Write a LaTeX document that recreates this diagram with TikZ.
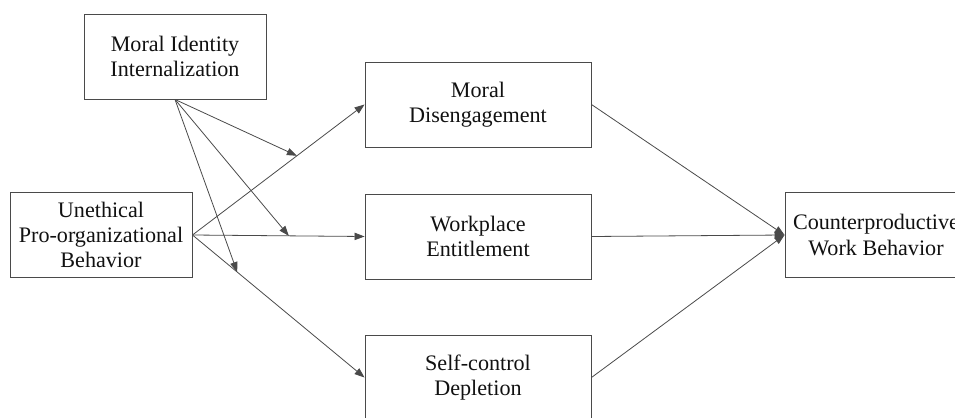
\documentclass[tikz,border=0pt]{standalone}
\usepackage{fontspec}
\setmainfont{Liberation Serif}
\usepackage{xcolor}
\usetikzlibrary{arrows.meta}
\definecolor{ink}{HTML}{4A4A4A}
\definecolor{txt}{HTML}{111111}
\tikzset{
  box/.style={draw=ink, line width=0.7pt, text=txt, align=center, inner sep=0pt,
    minimum height=63.75pt, font=\fontsize{16.6}{19}\selectfont},
  sidebox/.style={box, minimum width=136.5pt},
  midbox/.style={box, minimum width=169.5pt},
  path/.style={draw=ink, line width=0.6pt, -{Triangle[length=7.5pt, width=5.5pt]}},
}

\begin{document}
\begin{tikzpicture}[x=0.75pt, y=-0.75pt]
  \clip (0,0) rectangle (955,417);
  \useasboundingbox (0,0) rectangle (955,417);

  \node[sidebox] (mii) at (175,56.5) {Moral Identity\\Internalization};
  \node[sidebox] (upb) at (101,235) {Unethical\\Pro-organizational\\Behavior};
  \node[midbox] (md) at (478,104.5) {Moral\\Disengagement};
  \node[midbox] (we) at (478,236.5) {Workplace\\Entitlement};
  \node[midbox] (sd) at (478,377.5) {Self-control\\Depletion};
  \node[sidebox] (cwb) at (876,235) {Counterproductive\\Work Behavior};

  % direct paths
  \draw[path] (upb.east) -- (md.west) coordinate[pos=0.607] (m1);
  \draw[path] (upb.east) -- (we.west) coordinate[pos=0.56] (m2);
  \draw[path] (upb.east) -- (sd.west) coordinate[pos=0.26] (m3);

  % moderation
  \draw[path] (mii.south) -- (m1);
  \draw[path] (mii.south) -- (m2);
  \draw[path] (mii.south) -- (m3);

  % mediators to outcome
  \draw[path] (md.east) -- (cwb.west);
  \draw[path] (we.east) -- (cwb.west);
  \draw[path] (sd.east) -- (cwb.west);
\end{tikzpicture}
\end{document}
